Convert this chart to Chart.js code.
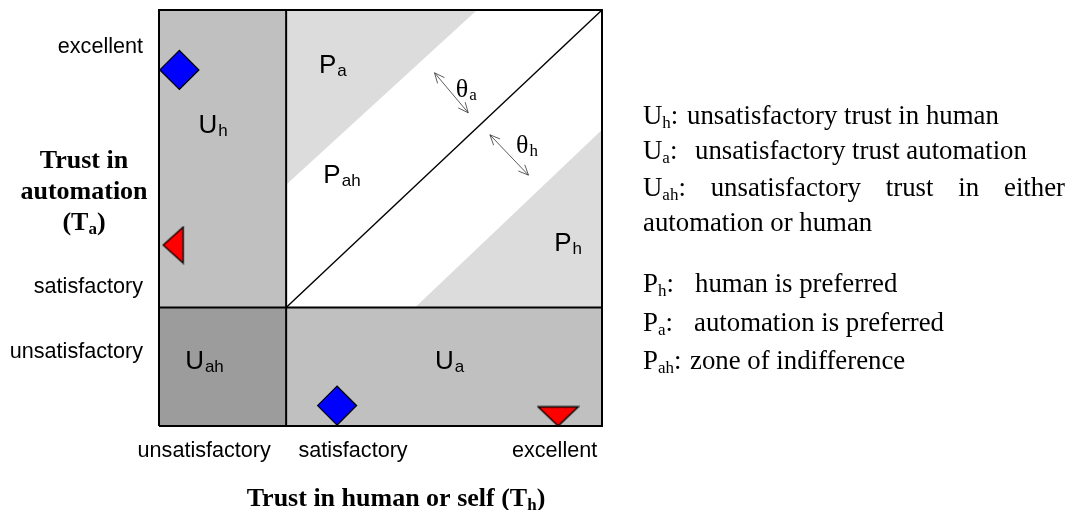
<!DOCTYPE html>
<html lang="en">
<head>
    <meta charset="UTF-8">
    <title>Trust zones</title>
    <style>
        body {
            margin: 0;
            background: #fff;
        }
        .wrap {
            position: relative;
            width: 1071px;
            height: 510px;
        }
        #chart {
            position: absolute;
            left: 0;
            top: 0;
        }
        .key {
            position: absolute;
            font-family: "Liberation Serif", "Times New Roman", serif;
            font-size: 26.8px;
            line-height: 27px;
            color: #000;
            white-space: nowrap;
        }
        .key sub {
            font-size: 17px;
            vertical-align: -4px;
            line-height: 0;
        }
        .justify {
            text-align: justify;
            text-align-last: justify;
            white-space: normal;
        }
    </style>
</head>
<body>
<div class="wrap">
    <canvas id="chart" width="1071" height="510"></canvas>
    <div id="legend"></div>
</div>

<script src="https://cdn.jsdelivr.net/npm/chart.js"></script>
<script>
    // Axis scale runs 0..100 for both trust measures
    const xCut = 28.7;   // human trust: unsatisfactory / satisfactory
    const yCut = 28.5;   // automation trust: unsatisfactory / satisfactory

    // Tick labels and where they sit
    const xTickLabels = ['unsatisfactory', 'satisfactory', 'excellent'];
    const xTickValues = [10.2, 43.8, 89.3];
    const yTickLabels = ['unsatisfactory', 'satisfactory', 'excellent'];
    const yTickValues = [17.7, 33.3, 91.1];

    // Preference band edges (light gray zones)
    const paBand = [{x: xCut, y: 58.0}, {x: xCut, y: 100}, {x: 71.8, y: 100}];
    const phBand = [{x: 57.8, y: yCut}, {x: 100, y: yCut}, {x: 100, y: 71.2}];

    // Markers
    const diamondPoints = [{x: 4.6, y: 85.6}, {x: 40.2, y: 4.9}];
    const leftTrianglePoints = [{x: 3.2, y: 43.5}];
    const downTrianglePoints = [{x: 90.1, y: 2.3}];

    // Theta arrows (start / end)
    const thetaArrows = [
        [{x: 62.2, y: 84.9}, {x: 69.8, y: 75.3}],
        [{x: 74.7, y: 70.0}, {x: 83.4, y: 60.3}]
    ];

    // Zone labels
    const zoneMain = ['U', 'P', 'P', 'P', 'U', 'U'];
    const zoneSub = ['h', 'a', 'ah', 'h', 'ah', 'a'];
    const zoneX = [8.9, 36.1, 37.1, 89.2, 5.9, 62.3];
    const zoneY = [70.5, 84.8, 58.3, 42.1, 13.6, 13.6];

    const thetaSub = ['a', 'h'];
    const thetaX = [67.0, 80.6];
    const thetaY = [79.1, 65.6];

    // Legend entries
    const legendKeys = ['U', 'U', 'U', '', 'P', 'P', 'P'];
    const legendSubs = ['h', 'a', 'ah', '', 'h', 'a', 'ah'];
    const legendTexts = [
        'unsatisfactory trust in human',
        'unsatisfactory trust automation',
        'unsatisfactory trust in either',
        'automation or human',
        'human is preferred',
        'automation is preferred',
        'zone of indifference'
    ];

    function rect(x0, y0, x1, y1) {
        return [{x: x0, y: y0}, {x: x1, y: y0}, {x: x1, y: y1}, {x: x0, y: y1}];
    }

    // Small canvases for the red triangle markers
    function triangleImage(w, h, dir) {
        const c = document.createElement('canvas');
        c.width = w + 3;
        c.height = h + 3;
        const g = c.getContext('2d');
        g.beginPath();
        if (dir === 'left') {
            g.moveTo(1.5, 1.5 + h / 2);
            g.lineTo(1.5 + w, 1.5);
            g.lineTo(1.5 + w, 1.5 + h);
        } else {
            g.moveTo(1.5, 1.5);
            g.lineTo(1.5 + w, 1.5);
            g.lineTo(1.5 + w / 2, 1.5 + h);
        }
        g.closePath();
        g.fillStyle = '#ff0000';
        g.fill();
        g.lineWidth = 1.3;
        g.strokeStyle = '#000';
        g.stroke();
        return c;
    }

    function drawSub(ctx, x, y, main, sub, font, subFont, drop) {
        ctx.font = font;
        ctx.fillText(main, x, y);
        const w = ctx.measureText(main).width;
        ctx.font = subFont;
        ctx.fillText(sub, x + w + 1, y + drop);
        return w + 1 + ctx.measureText(sub).width;
    }

    function arrowHead(ctx, x0, y0, x1, y1) {
        const a = Math.atan2(y1 - y0, x1 - x0);
        const len = 11, spread = 0.42;
        ctx.beginPath();
        ctx.moveTo(x1 - len * Math.cos(a - spread), y1 - len * Math.sin(a - spread));
        ctx.lineTo(x1, y1);
        ctx.lineTo(x1 - len * Math.cos(a + spread), y1 - len * Math.sin(a + spread));
        ctx.stroke();
    }

    const annotations = {
        id: 'annotations',
        afterDatasetsDraw(chart) {
            const ctx = chart.ctx;
            const xs = chart.scales.x, ys = chart.scales.y;
            ctx.save();
            ctx.fillStyle = '#000';
            ctx.textAlign = 'left';
            ctx.textBaseline = 'alphabetic';

            // zone names
            zoneMain.forEach((m, i) => {
                drawSub(ctx, xs.getPixelForValue(zoneX[i]), ys.getPixelForValue(zoneY[i]),
                    m, zoneSub[i], '26px "Liberation Sans", Arial, sans-serif',
                    '17px "Liberation Sans", Arial, sans-serif', 3);
            });

            // theta labels
            thetaSub.forEach((s, i) => {
                drawSub(ctx, xs.getPixelForValue(thetaX[i]), ys.getPixelForValue(thetaY[i]),
                    '\u03b8', s, '26px "Liberation Serif", "Times New Roman", serif',
                    '17px "Liberation Serif", "Times New Roman", serif', 3);
            });

            // double headed arrows
            ctx.strokeStyle = '#333';
            ctx.lineWidth = 0.8;
            thetaArrows.forEach(([p, q]) => {
                const x0 = xs.getPixelForValue(p.x), y0 = ys.getPixelForValue(p.y);
                const x1 = xs.getPixelForValue(q.x), y1 = ys.getPixelForValue(q.y);
                ctx.beginPath();
                ctx.moveTo(x0, y0);
                ctx.lineTo(x1, y1);
                ctx.stroke();
                arrowHead(ctx, x0, y0, x1, y1);
                arrowHead(ctx, x1, y1, x0, y0);
            });

            // axis titles
            const bold = 'bold 26px "Liberation Serif", "Times New Roman", serif';
            const boldSub = 'bold 17px "Liberation Serif", "Times New Roman", serif';
            ctx.textAlign = 'center';
            ctx.font = bold;
            ctx.fillText('Trust in', 84, 168);
            ctx.fillText('automation', 84, 199);
            ctx.textAlign = 'left';
            ctx.font = bold;
            let w1 = ctx.measureText('(T').width;
            ctx.font = boldSub;
            let w2 = ctx.measureText('a').width;
            ctx.font = bold;
            let w3 = ctx.measureText(')').width;
            let x = 84 - (w1 + w2 + w3) / 2;
            ctx.fillText('(T', x, 230);
            ctx.font = boldSub;
            ctx.fillText('a', x + w1, 234);
            ctx.font = bold;
            ctx.fillText(')', x + w1 + w2, 230);

            ctx.font = bold;
            w1 = ctx.measureText('Trust in human or self (T').width;
            ctx.font = boldSub;
            w2 = ctx.measureText('h').width;
            x = 396 - (w1 + w2 + w3) / 2;
            ctx.font = bold;
            ctx.fillText('Trust in human or self (T', x, 506);
            ctx.font = boldSub;
            ctx.fillText('h', x + w1, 510);
            ctx.font = bold;
            ctx.fillText(')', x + w1 + w2, 506);
            ctx.restore();
        }
    };

    const zoneFill = (data, color, order) => ({
        data: data,
        showLine: true,
        fill: 'shape',
        backgroundColor: color,
        borderWidth: 0,
        pointRadius: 0,
        order: order
    });
    const edge = (data, width, order) => ({
        data: data,
        showLine: true,
        fill: false,
        borderColor: '#000',
        borderWidth: width,
        pointRadius: 0,
        clip: 4,
        order: order
    });

    new Chart(document.getElementById('chart'), {
        type: 'scatter',
        data: {
            datasets: [
                {
                    data: diamondPoints,
                    pointStyle: 'rectRot',
                    pointRadius: 19.5,
                    backgroundColor: '#0000ff',
                    borderColor: '#000',
                    borderWidth: 1.3,
                    clip: false,
                    order: 0
                },
                {
                    data: leftTrianglePoints,
                    pointStyle: triangleImage(20, 36, 'left'),
                    clip: false,
                    order: 0
                },
                {
                    data: downTrianglePoints,
                    pointStyle: triangleImage(40, 19, 'down'),
                    clip: false,
                    order: 0
                },
                edge([{x: xCut, y: yCut}, {x: 100, y: 100}], 1.4, 1),
                edge([{x: 0, y: 0}, {x: 100, y: 0}, {x: 100, y: 100}, {x: 0, y: 100}, {x: 0, y: 0}], 2, 1),
                edge([{x: xCut, y: 0}, {x: xCut, y: 100}], 2, 1),
                edge([{x: 0, y: yCut}, {x: 100, y: yCut}], 2, 1),
                zoneFill(paBand, '#dcdcdc', 2),
                zoneFill(phBand, '#dcdcdc', 2),
                zoneFill(rect(0, yCut, xCut, 100), '#c0c0c0', 3),
                zoneFill(rect(xCut, 0, 100, yCut), '#c0c0c0', 3),
                zoneFill(rect(0, 0, xCut, yCut), '#9c9c9c', 3)
            ]
        },
        options: {
            responsive: false,
            animation: false,
            layout: {
                autoPadding: false,
                padding: {left: 0, top: 10, right: 469, bottom: 0}
            },
            plugins: {
                legend: {display: false},
                tooltip: {enabled: false}
            },
            scales: {
                x: {
                    type: 'linear',
                    min: 0,
                    max: 100,
                    afterFit: s => {
                        s.height = 84;
                        s.paddingLeft = 0;
                        s.paddingRight = 0;
                    },
                    afterBuildTicks: s => { s.ticks = xTickValues.map(v => ({value: v})); },
                    grid: {display: false, drawTicks: false, tickLength: 0},
                    border: {display: false},
                    ticks: {
                        padding: 12,
                        maxRotation: 0,
                        autoSkip: false,
                        color: '#000',
                        font: {family: '"Liberation Sans", Arial, sans-serif', size: 21.6},
                        callback: (v) => xTickLabels[xTickValues.indexOf(v)]
                    }
                },
                y: {
                    type: 'linear',
                    min: 0,
                    max: 100,
                    afterFit: s => {
                        s.width = 159;
                        s.paddingTop = 0;
                        s.paddingBottom = 0;
                    },
                    afterBuildTicks: s => { s.ticks = yTickValues.map(v => ({value: v})); },
                    grid: {display: false, drawTicks: false, tickLength: 0},
                    border: {display: false},
                    ticks: {
                        padding: 16,
                        autoSkip: false,
                        color: '#000',
                        font: {family: '"Liberation Sans", Arial, sans-serif', size: 21.6},
                        callback: (v) => yTickLabels[yTickValues.indexOf(v)]
                    }
                }
            }
        },
        plugins: [annotations]
    });

    // Legend on the right, one absolutely placed line per entry
    const legendBaselines = [125, 160, 197, 232, 293, 331.5, 370];
    const legendTextX = [687, 695, 0, 643, 695, 694, 690];
    const legendEl = document.getElementById('legend');
    legendTexts.forEach((t, i) => {
        const top = legendBaselines[i] - 23;
        if (i === 2) {
            const d = document.createElement('div');
            d.className = 'key justify';
            d.style.left = '643px';
            d.style.top = top + 'px';
            d.style.width = '422px';
            d.innerHTML = legendKeys[i] + '<sub>' + legendSubs[i] + '</sub>: ' + t;
            legendEl.appendChild(d);
            return;
        }
        if (legendKeys[i]) {
            const k = document.createElement('div');
            k.className = 'key';
            k.style.left = '643px';
            k.style.top = top + 'px';
            k.innerHTML = legendKeys[i] + '<sub>' + legendSubs[i] + '</sub>:';
            legendEl.appendChild(k);
        }
        const d = document.createElement('div');
        d.className = 'key';
        d.style.left = legendTextX[i] + 'px';
        d.style.top = top + 'px';
        d.textContent = t;
        legendEl.appendChild(d);
    });
</script>
</body>
</html>
